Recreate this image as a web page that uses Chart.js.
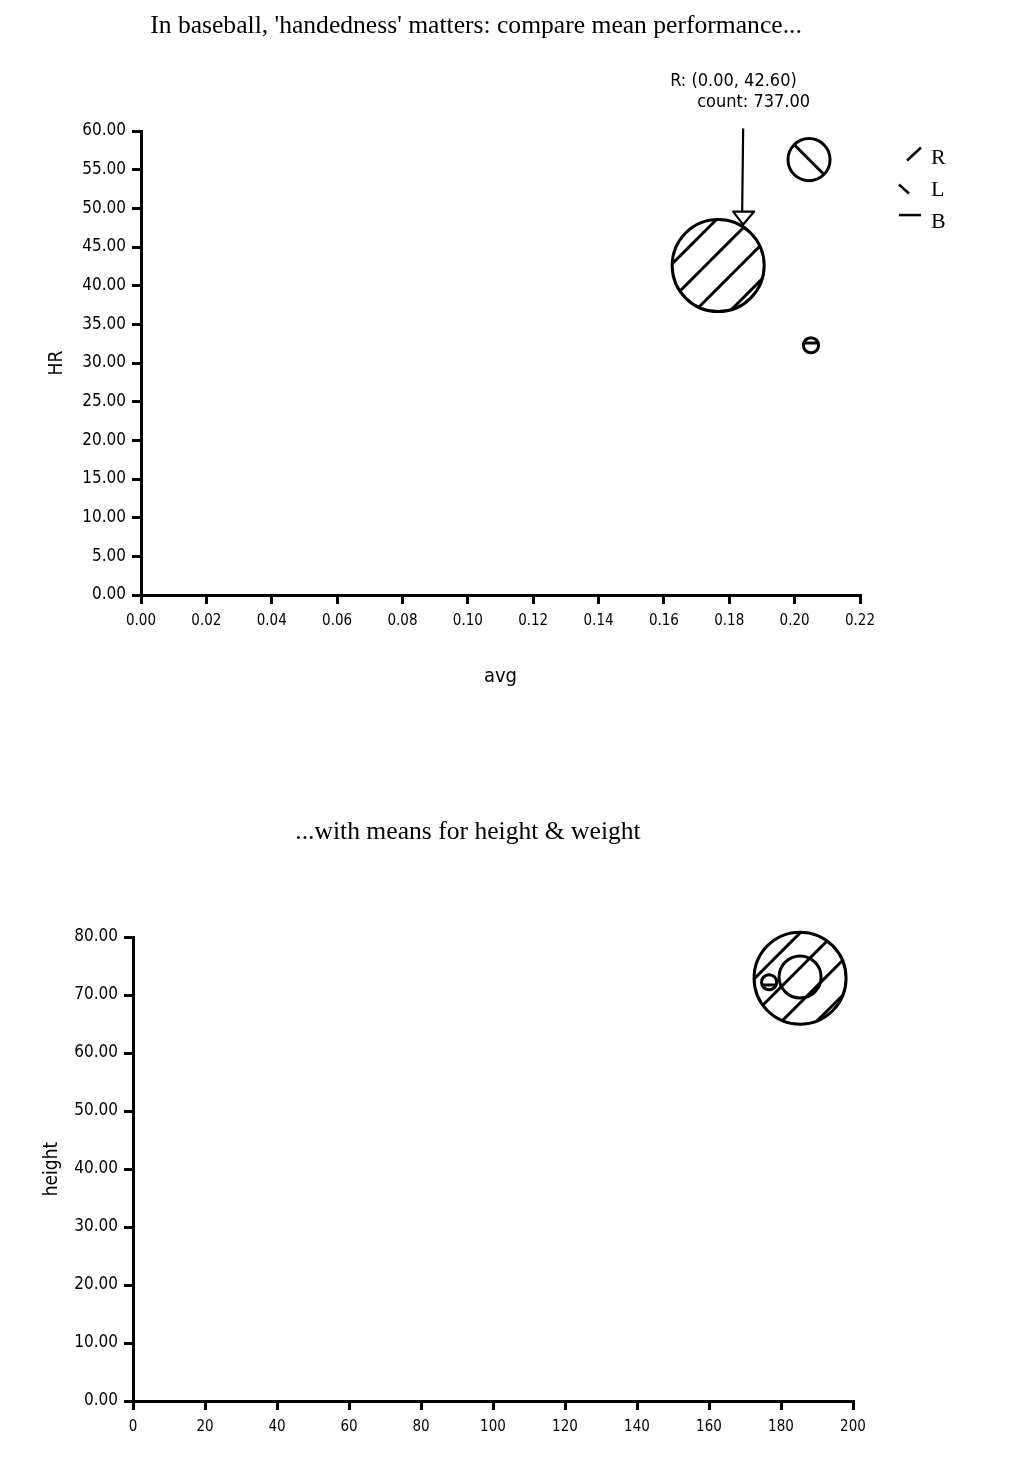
<!DOCTYPE html>
<html><head><meta charset="utf-8">
<script src="https://cdn.jsdelivr.net/npm/chart.js@4/dist/chart.umd.min.js"></script>
<style>
html,body{margin:0;padding:0;background:#fff;overflow:hidden;width:1010px;height:1458px;}
#w1{position:absolute;left:0;top:0;width:952px;height:689px;}
#w2{position:absolute;left:0;top:740px;width:936px;height:718px;}
canvas{display:block;}
</style></head><body>
<div id="w1"><canvas id="c1" width="952" height="689"></canvas></div>
<div id="w2"><canvas id="c2" width="936" height="718"></canvas></div>
<script>
// ---- data ----
const groups = ['R', 'L', 'B'];
const avg    = [0.1766, 0.2044, 0.2050];
const HR     = [42.6, 56.3, 32.3];
const count  = [737, 154, 20];
const weight = [185.3, 185.3, 176.7];
const height = [72.9, 73.1, 72.2];
const avgTicks    = [0, 0.02, 0.04, 0.06, 0.08, 0.10, 0.12, 0.14, 0.16, 0.18, 0.20, 0.22];
const hrTicks     = [0, 5, 10, 15, 20, 25, 30, 35, 40, 45, 50, 55, 60];
const weightTicks = [0, 20, 40, 60, 80, 100, 120, 140, 160, 180, 200];
const heightTicks = [0, 10, 20, 30, 40, 50, 60, 70, 80];
const title1 = "In baseball, 'handedness' matters: compare mean performance...";
const title2 = "...with means for height & weight";
const tipX = '0.00';

// ---- styles ----
const HAND = "'DejaVu Sans Condensed','DejaVu Sans',sans-serif";
const SERIF = "'Liberation Serif','DejaVu Serif',serif";
const K = 46 / Math.sqrt(737);
const kinds = ['/', '\\', '-'];
const hatchOffsets1 = [26, 129.5, 0];
const hatchOffsets2 = [13, 108, 0];

function makePattern(ctx, kind, off) {
  const size = kind === '/' ? 35 : (kind === '\\' ? 130 : 49);
  const c = document.createElement('canvas');
  c.width = size; c.height = size;
  const g = c.getContext('2d');
  g.strokeStyle = '#000'; g.lineWidth = 3;
  g.beginPath();
  const o = off % size;
  for (let k = -3; k <= 3; k++) {
    const s = k * size + o;
    if (kind === '/') { g.moveTo(s + size, -size); g.lineTo(s - 2 * size, 2 * size); }
    else if (kind === '\\') { g.moveTo(s - size, -size); g.lineTo(s + 2 * size, 2 * size); }
  }
  if (kind === '-') { g.moveTo(-5, o); g.lineTo(size + 5, o); g.moveTo(-5, o + size); g.lineTo(size + 5, o + size); }
  g.stroke();
  return ctx.createPattern(c, 'repeat');
}
function legendImg(kind) {
  const c = document.createElement('canvas');
  c.width = 54; c.height = 30;
  const g = c.getContext('2d');
  g.strokeStyle = '#000'; g.lineWidth = 2.5;
  g.beginPath();
  if (kind === '/') { g.moveTo(39, 17.5); g.lineTo(53, 4.5); }
  else if (kind === '\\') { g.moveTo(31, 9.5); g.lineTo(41, 18.5); }
  else { g.moveTo(31, 8); g.lineTo(53, 8); }
  g.stroke();
  return c;
}
const legendImgs = kinds.map(legendImg);

function axisCommon(tickFont, pad) {
  return {
    type: 'linear',
    grid: { display: true, drawOnChartArea: false, drawTicks: true, tickLength: 9, color: '#000', lineWidth: 3 },
    border: { display: true, color: '#000', width: 3 },
    ticks: { color: '#000', font: { family: HAND, size: tickFont }, padding: pad, maxRotation: 0, autoSkip: false }
  };
}

function datasets(ctx, xs, ys, offs) {
  return groups.map((g, i) => ({
    label: g,
    data: [{ x: xs[i], y: ys[i] }],
    backgroundColor: makePattern(ctx, kinds[i], offs[i]),
    borderColor: '#000',
    borderWidth: 3,
    clip: false,
    radius: () => K * Math.sqrt(count[i])
  }));
}

const tipPlugin = {
  id: 'tip',
  afterDatasetsDraw(chart) {
    const el = chart.getDatasetMeta(0).data[0];
    const x = el.x, y = el.y;
    const ctx = chart.ctx;
    ctx.save();
    ctx.strokeStyle = '#000'; ctx.lineWidth = 2.2; ctx.lineJoin = 'round';
    ctx.beginPath(); ctx.moveTo(x + 25, y - 137); ctx.lineTo(x + 24, y - 54); ctx.stroke();
    ctx.beginPath(); ctx.moveTo(x + 15, y - 54); ctx.lineTo(x + 36, y - 54); ctx.lineTo(x + 25, y - 41); ctx.closePath();
    ctx.fillStyle = '#fff'; ctx.fill(); ctx.stroke();
    ctx.fillStyle = '#000'; ctx.font = '18px ' + HAND; ctx.textBaseline = 'middle'; ctx.textAlign = 'left';
    ctx.fillText(groups[0] + ': (' + tipX + ', ' + HR[0].toFixed(2) + ')', x - 48, y - 184);
    ctx.fillText('count: ' + count[0].toFixed(2), x - 21, y - 163);
    ctx.restore();
  }
};

// ---- chart 1 ----
const c1 = document.getElementById('c1').getContext('2d');
const x1 = axisCommon(15, 8), y1 = axisCommon(17, 6);
Object.assign(x1, {
  min: 0, max: 0.22,
  afterBuildTicks: s => { s.ticks = avgTicks.map(v => ({ value: v })); },
  title: { display: true, text: 'avg', color: '#000', font: { family: HAND, size: 20 }, padding: { top: 0, bottom: 0 } },
  afterFit: s => { s.height = 94; }
});
x1.ticks.callback = v => Number(v).toFixed(2);
Object.assign(y1, {
  min: 0, max: 60,
  afterBuildTicks: s => { s.ticks = hrTicks.map(v => ({ value: v })); },
  title: { display: true, text: 'HR', color: '#000', font: { family: HAND, size: 19 }, padding: { top: 45.6, bottom: 0 } },
  afterFit: s => { s.width = 141; }
});
y1.ticks.callback = v => Number(v).toFixed(2);

new Chart(c1, {
  type: 'bubble',
  data: { datasets: datasets(c1, avg, HR, hatchOffsets1) },
  options: {
    responsive: false, animation: false, events: [],
    layout: { padding: 0 },
    scales: { x: x1, y: y1 },
    plugins: {
      tooltip: { enabled: false },
      title: { display: true, text: title1, color: '#000', font: { family: SERIF, size: 25.6, weight: 'normal' }, padding: { top: 10.6, bottom: 89.7 } },
      legend: {
        display: true, position: 'right', align: 'start', maxWidth: 92, fullSize: false,
        title: { display: true, text: ' ', font: { size: 5 }, padding: 0 },
        labels: {
          usePointStyle: true, pointStyleWidth: 50, padding: 10, color: '#000',
          font: { family: SERIF, size: 22 },
          generateLabels(chart) {
            const items = Chart.defaults.plugins.legend.labels.generateLabels(chart);
            items.forEach((it, i) => { it.pointStyle = legendImgs[i]; });
            return items;
          }
        }
      }
    }
  },
  plugins: [tipPlugin]
});

// ---- chart 2 ----
const c2 = document.getElementById('c2').getContext('2d');
const x2 = axisCommon(15, 8), y2 = axisCommon(17, 6);
Object.assign(x2, {
  min: 0, max: 200,
  afterBuildTicks: s => { s.ticks = weightTicks.map(v => ({ value: v })); },
  afterFit: s => { s.height = 57; }
});
x2.ticks.callback = v => String(v);
Object.assign(y2, {
  min: 0, max: 80,
  afterBuildTicks: s => { s.ticks = heightTicks.map(v => ({ value: v })); },
  title: { display: true, text: 'height', color: '#000', font: { family: HAND, size: 19 }, padding: { top: 40.6, bottom: 0 } },
  afterFit: s => { s.width = 133; }
});
y2.ticks.callback = v => Number(v).toFixed(2);

new Chart(c2, {
  type: 'bubble',
  data: { datasets: datasets(c2, weight, height, hatchOffsets2) },
  options: {
    responsive: false, animation: false, events: [],
    layout: { padding: 0 },
    scales: {
      x: x2, y: y2,
      yPad: { type: 'linear', position: 'right', display: true, grid: { display: false }, border: { display: false }, ticks: { display: false }, afterFit: s => { s.width = 83; } }
    },
    plugins: {
      tooltip: { enabled: false },
      legend: { display: false },
      title: { display: true, text: title2, color: '#000', font: { family: SERIF, size: 25.6, weight: 'normal' }, padding: { top: 76.6, bottom: 89.7 } }
    }
  }
});
</script>
</body></html>
